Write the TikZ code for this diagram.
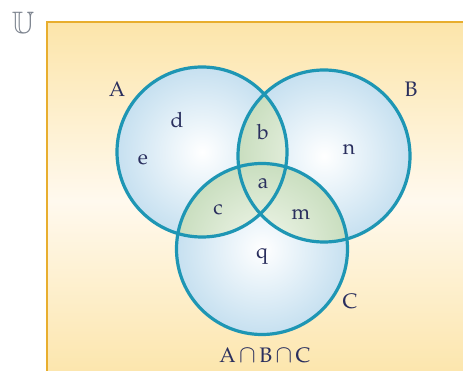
\documentclass[tikz,border=0pt]{standalone}
\usepackage{amssymb}
\usepackage{fontspec}
\setmainfont{TeX Gyre Pagella}
\begin{document}
\begin{tikzpicture}[x=1pt,y=-1pt,
  lbl/.style={text=navy, font=\fontsize{21}{23}\selectfont, inner sep=0pt},
  ring/.style={draw=teal0, line width=3.2pt},
  bluefill/.style={shading=radial, inner color=white, outer color=blue0},
  greenfill/.style={shading=radial, inner color=green1, outer color=green0}]
\definecolor{navy}{HTML}{2A2F5E}
\definecolor{teal0}{HTML}{1E96B4}
\definecolor{blue0}{HTML}{C6E0F0}
\definecolor{green0}{HTML}{C9DEBF}
\definecolor{green1}{HTML}{F2F7EC}
\definecolor{bgY}{HTML}{FCE5AA}
\definecolor{bgW}{HTML}{FFF9EE}
\definecolor{border0}{HTML}{E8AE2E}
\definecolor{ugray}{HTML}{7C838E}
\useasboundingbox (0,0) rectangle (463,371);
% background panel
\shade[top color=bgY, bottom color=bgY, middle color=bgW] (47,22) rectangle (470,380);
\draw[border0, line width=2.2pt] (470,22) -- (47,22) -- (47,380);
% universal symbol
\node[text=ugray, font=\fontsize{31}{33}\selectfont, inner sep=0pt] (U) at (23,23) {$\mathbb{U}$};
% circle fills
\coordinate (cA) at (202,152);
\coordinate (cB) at (324,156);
\coordinate (cC) at (262,249);
\fill[bluefill] (cA) circle (85);
\fill[bluefill] (cB) circle (86);
\fill[bluefill] (cC) circle (85.5);
% lenses
\begin{scope}
  \clip (cA) circle (85);
  \fill[greenfill] (cB) circle (86);
\end{scope}
\begin{scope}
  \clip (cA) circle (85);
  \fill[greenfill] (cC) circle (85.5);
\end{scope}
\begin{scope}
  \clip (cB) circle (86);
  \fill[greenfill] (cC) circle (85.5);
\end{scope}
% outlines
\draw[ring] (cA) circle (85);
\draw[ring] (cB) circle (86);
\draw[ring] (cC) circle (85.5);
% labels
\node[lbl] (lA) at (117,89) {A};
\node[lbl] (lB) at (411,89) {B};
\node[lbl] (lC) at (350,301) {C};
\node[lbl] (d) at (177,120) {d};
\node[lbl] (e) at (143,160) {e};
\node[lbl] (b) at (263,132) {b};
\node[lbl] (n) at (349,150) {n};
\node[lbl] (a) at (263,184) {a};
\node[lbl] (c) at (218,210) {c};
\node[lbl] (m) at (301,215) {m};
\node[lbl] (q) at (262,257) {q};
\node[lbl] (abc) at (265,355) {A\,{\fontsize{25}{27}\selectfont$\cap$}\,B\,{\fontsize{25}{27}\selectfont$\cap$}\,C};
\end{tikzpicture}
\end{document}
